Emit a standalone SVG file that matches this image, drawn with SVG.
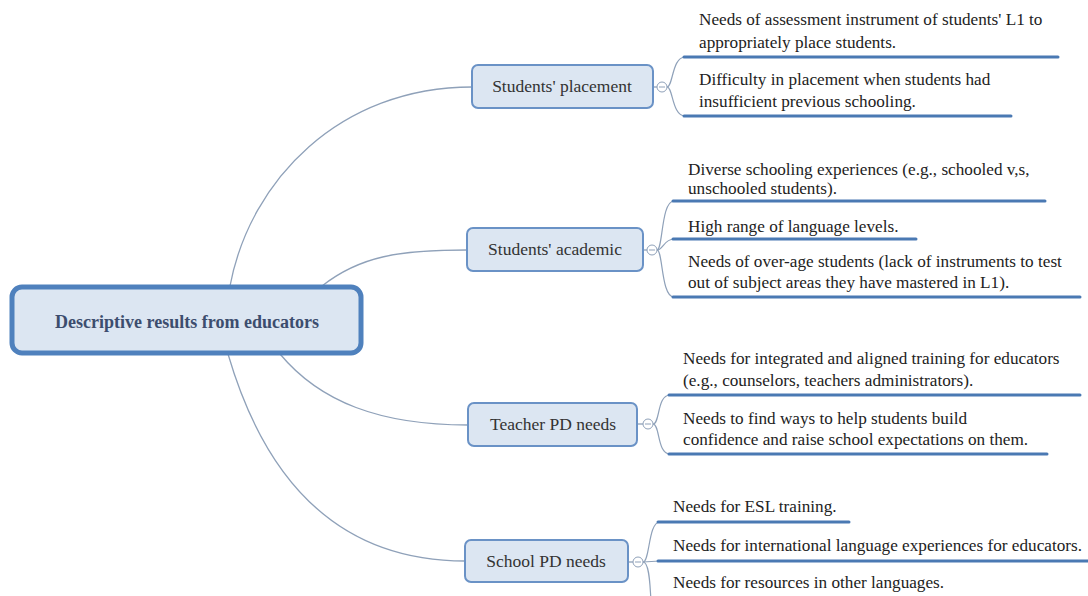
<svg xmlns="http://www.w3.org/2000/svg" width="1088" height="596" viewBox="0 0 1088 596">
<style>
.conn{fill:none;stroke:#8fa1b9;stroke-width:1.3}
.brace{fill:none;stroke:#8fa1b9;stroke-width:1.2}
.ul{stroke:#4a79b3;stroke-width:3;stroke-linecap:round}
.box{fill:#dce6f2;stroke:#6a92c6;stroke-width:2}
.lbl{font-family:"Liberation Serif","DejaVu Serif",serif;font-size:17.5px;fill:#333;text-anchor:middle}
.leaf{font-family:"Liberation Serif","DejaVu Serif",serif;font-size:17.2px;fill:#222}
.tog{fill:#fff;stroke:#8fa1b9;stroke-width:1}
.minus{stroke:#8fa1b9;stroke-width:1}
</style>
<rect width="1088" height="596" fill="#fff"/>
<g id="connectors">
<path class="conn" d="M230,286 C250,180 340,87 472,87"/>
<path class="conn" d="M322,286 C360,256 400,250 467,250"/>
<path class="conn" d="M280,354 C320,402 380,425 468,425"/>
<path class="conn" d="M228,354 C262,470 330,561 465,561"/>
<line class="conn" x1="653" y1="87" x2="657" y2="87"/>
<line class="conn" x1="643" y1="250" x2="647" y2="250"/>
<line class="conn" x1="637" y1="424" x2="643" y2="424"/>
<line class="conn" x1="628" y1="562" x2="633" y2="562"/>
<path class="brace" d="M667,87 C673,87 672,57 685,57"/>
<path class="brace" d="M667,87 C673,87 672,116 685,116"/>
<path class="brace" d="M657,250 C663,250 661,201 674,201"/>
<path class="brace" d="M657,250 C663,250 664,239 674,239"/>
<path class="brace" d="M657,250 C663,250 661,297 674,297"/>
<path class="brace" d="M653,424 C660,424 657,395 670,395"/>
<path class="brace" d="M653,424 C660,424 657,454 670,454"/>
<path class="brace" d="M643,562 C650,562 648,522 660,522"/>
<path class="brace" d="M643,562 L660,561"/>
<path class="brace" d="M643,562 C650,562 650,590 651,600"/>
</g>
<g id="central">
<rect x="12" y="287" width="349" height="66" rx="10" fill="#dce6f2" stroke="#4f81bd" stroke-width="5"/>
<text x="187" y="328" font-family="'Liberation Serif','DejaVu Serif',serif" font-size="18" font-weight="bold" fill="#3c4d6e" text-anchor="middle">Descriptive results from educators</text>
</g>
<g id="placement">
<rect class="box" x="472" y="65" width="181" height="43" rx="6"/>
<text class="lbl" x="562" y="92">Students' placement</text>
<circle class="tog" cx="662" cy="87" r="5"/><line class="minus" x1="659" y1="87" x2="665" y2="87"/>
</g>
<g id="placement-1">
<text class="leaf" x="699" y="25">Needs of assessment instrument of students' L1 to</text>
<text class="leaf" x="699" y="48">appropriately place students.</text>
<line class="ul" x1="684" y1="57" x2="1058" y2="57"/>
</g>
<g id="placement-2">
<text class="leaf" x="699" y="85">Difficulty in placement when students had</text>
<text class="leaf" x="699" y="107">insufficient previous schooling.</text>
<line class="ul" x1="684" y1="116" x2="1011" y2="116"/>
</g>
<g id="academic">
<rect class="box" x="467" y="228" width="176" height="43" rx="6"/>
<text class="lbl" x="555" y="255">Students' academic</text>
<circle class="tog" cx="652" cy="250" r="5"/><line class="minus" x1="649" y1="250" x2="655" y2="250"/>
</g>
<g id="academic-1">
<text class="leaf" x="688" y="175">Diverse schooling experiences (e.g., schooled v,s,</text>
<text class="leaf" x="688" y="194">unschooled students).</text>
<line class="ul" x1="673" y1="201" x2="1045" y2="201"/>
</g>
<g id="academic-2">
<text class="leaf" x="688" y="232">High range of language levels.</text>
<line class="ul" x1="673" y1="239" x2="916" y2="239"/>
</g>
<g id="academic-3">
<text class="leaf" x="688" y="267">Needs of over-age students (lack of instruments to test</text>
<text class="leaf" x="688" y="288">out of subject areas they have mastered in L1).</text>
<line class="ul" x1="673" y1="297" x2="1080" y2="297"/>
</g>
<g id="teacher">
<rect class="box" x="468" y="403" width="169" height="43" rx="6"/>
<text class="lbl" x="553" y="430">Teacher PD needs</text>
<circle class="tog" cx="648" cy="424" r="5"/><line class="minus" x1="645" y1="424" x2="651" y2="424"/>
</g>
<g id="teacher-1">
<text class="leaf" x="683" y="364">Needs for integrated and aligned training for educators</text>
<text class="leaf" x="683" y="386">(e.g., counselors, teachers administrators).</text>
<line class="ul" x1="669" y1="395" x2="1080" y2="395"/>
</g>
<g id="teacher-2">
<text class="leaf" x="683" y="424">Needs to find ways to help students build</text>
<text class="leaf" x="683" y="445">confidence and raise school expectations on them.</text>
<line class="ul" x1="669" y1="454" x2="1047" y2="454"/>
</g>
<g id="school">
<rect class="box" x="465" y="540" width="163" height="42" rx="6"/>
<text class="lbl" x="546" y="567">School PD needs</text>
<circle class="tog" cx="638" cy="562" r="5"/><line class="minus" x1="635" y1="562" x2="641" y2="562"/>
</g>
<g id="school-1">
<text class="leaf" x="673" y="512">Needs for ESL training.</text>
<line class="ul" x1="658" y1="522" x2="849" y2="522"/>
</g>
<g id="school-2">
<text class="leaf" x="673" y="551">Needs for international language experiences for educators.</text>
<line class="ul" x1="658" y1="561" x2="1090" y2="561"/>
</g>
<g id="school-3">
<text class="leaf" x="673" y="588">Needs for resources in other languages.</text>
</g>
</svg>
